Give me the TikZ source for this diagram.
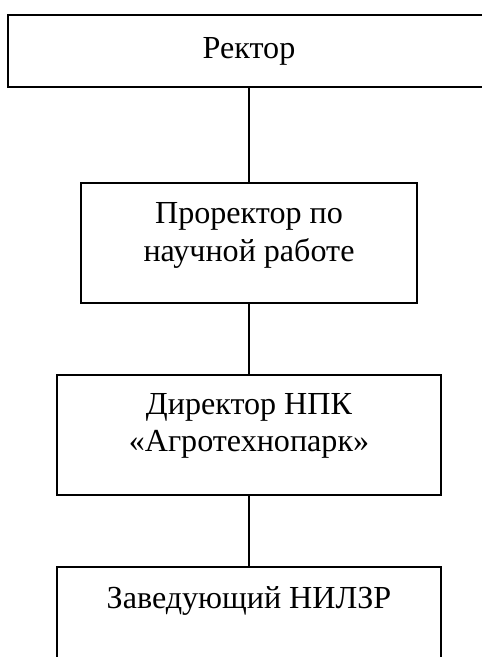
\documentclass[tikz,border=0pt]{standalone}
\usepackage{fontspec}
\setmainfont{Liberation Serif}
\usetikzlibrary{positioning}
\begin{document}
\begin{tikzpicture}[
  box/.style={draw,line width=0.75pt,inner sep=0pt},
  txt/.style={align=center,inner sep=0pt,font=\fontsize{13.7}{16}\selectfont}]
    \useasboundingbox (0,0) rectangle (7.215,-9.855);
    % boxes
    \node[box,minimum width=7.23cm,minimum height=1.08cm,
      font=\fontsize{13.7}{16}\selectfont] (rektor) at (3.735,-0.765) {Ректор};
    \node[box,minimum width=5.04cm,minimum height=1.8cm] (prorektor)
      at (3.735,-3.645) {};
    \node[box,minimum width=5.76cm,minimum height=1.8cm] (direktor)
      at (3.735,-6.525) {};
    \node[box,minimum width=5.76cm,minimum height=1.8cm] (zaved)
      at (3.735,-9.405) {};
    % texts
    \node[txt,anchor=north,below=0.3cm of prorektor.north] (prorektortxt)
      {Проректор по\\научной работе};
    \node[txt,anchor=north,below=0.28cm of direktor.north] (direktortxt)
      {Директор НПК\\«Агротехнопарк»};
    \node[txt,anchor=north,below=0.3cm of zaved.north] (zavedtxt)
      {Заведующий НИЛЗР};
    % lines
    \draw[line width=0.75pt] (rektor) -- (prorektor);
    \draw[line width=0.75pt] (prorektor) -- (direktor);
    \draw[line width=0.75pt] (direktor) -- (zaved);
\end{tikzpicture}
\end{document}
